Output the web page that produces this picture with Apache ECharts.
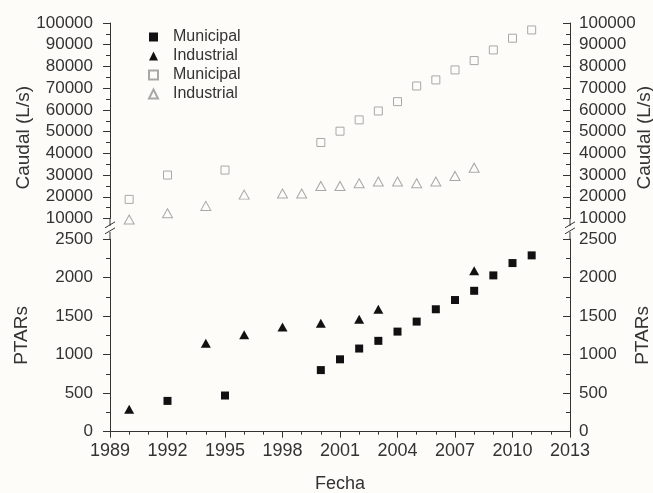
<!DOCTYPE html>
<html>
<head>
<meta charset="utf-8">
<script src="https://cdn.jsdelivr.net/npm/echarts@6/dist/echarts.min.js"></script>
<style>
  html, body { margin: 0; padding: 0; background: #fdfcf9; }
  #chart { width: 653px; height: 493px; }
</style>
</head>
<body>
<div id="chart"></div>
<script>
// Plantas de tratamiento (PTARs) por año
const ptarMunYears = [1992, 1995, 2000, 2001, 2002, 2003, 2004, 2005, 2006, 2007, 2008, 2009, 2010, 2011];
const ptarMun      = [400, 470, 800, 940, 1080, 1180, 1300, 1430, 1590, 1710, 1830, 2030, 2190, 2290];
const ptarIndYears = [1990, 1994, 1996, 1998, 2000, 2002, 2003, 2008];
const ptarInd      = [290, 1150, 1260, 1360, 1410, 1460, 1590, 2090];

// Caudal tratado (L/s) por año
const caudalMunYears = [1990, 1992, 1995, 2000, 2001, 2002, 2003, 2004, 2005, 2006, 2007, 2008, 2009, 2010, 2011];
const caudalMun      = [18800, 30000, 32300, 45000, 50200, 55400, 59500, 63800, 71000, 73800, 78400, 82700, 87600, 93000, 96800];
const caudalIndYears = [1990, 1992, 1994, 1996, 1998, 1999, 2000, 2001, 2002, 2003, 2004, 2005, 2006, 2007, 2008];
const caudalInd      = [9500, 12400, 15800, 21000, 21500, 21500, 25000, 25000, 26200, 27000, 27000, 26200, 27000, 29600, 33400];

const legendNames = ['PTARs Municipal', 'PTARs Industrial', 'Caudal Municipal', 'Caudal Industrial'];

const FONT = 'Liberation Sans, Arial, sans-serif';
const INK = '#333';
const HOLLOW = '#a8a8a8';

const pairs = (xs, ys) => xs.map((x, i) => [x, ys[i]]);
const plain = v => String(v);

const chart = echarts.init(document.getElementById('chart'), null, { renderer: 'canvas' });

const axisLine = { show: true, lineStyle: { color: INK, width: 1 } };
const yLabel = { color: INK, fontSize: 17, fontFamily: FONT, formatter: plain };
const nameStyle = { color: INK, fontSize: 19, fontFamily: FONT };
// the flow title sits a little below the middle of its panel
const caudalNameStyle = Object.assign({ padding: [0, 34, 0, 0] }, nameStyle);

function yAxisDef(grid, pos, min, max, interval, name, nameGap, style) {
  const right = pos === 'right';
  return {
    type: 'value', gridIndex: grid, position: pos, min: min, max: max, interval: interval,
    name: name, nameLocation: 'middle', nameGap: nameGap, nameRotate: 90, nameTextStyle: style,
    nameMoveOverlap: false,
    axisLine: axisLine,
    axisTick: { show: true, inside: right, length: 7, lineStyle: { color: INK } },
    minorTick: { show: true, splitNumber: 2, length: 4, lineStyle: { color: INK } },
    axisLabel: Object.assign({ margin: right ? 9 : 17 }, yLabel),
    splitLine: { show: false }
  };
}

const option = {
  backgroundColor: '#fdfcf9',
  animation: false,
  textStyle: { fontFamily: FONT },
  grid: [
    { left: 110, right: 83, top: 23, height: 195.5, containLabel: false, outerBoundsMode: 'none' },
    { left: 110, right: 83, top: 239.2, height: 192.5, containLabel: false, outerBoundsMode: 'none' }
  ],
  xAxis: [
    { type: 'value', gridIndex: 0, min: 1989, max: 2013, interval: 3, show: false },
    {
      type: 'value', gridIndex: 1, min: 1989, max: 2013, interval: 3,
      name: 'Fecha', nameLocation: 'middle', nameGap: 43, nameTextStyle: { color: INK, fontSize: 18, fontFamily: FONT },
      axisLine: axisLine,
      axisTick: { show: true, inside: false, length: 6, lineStyle: { color: INK } },
      minorTick: { show: true, splitNumber: 3, length: 3, lineStyle: { color: INK } },
      axisLabel: { color: INK, fontSize: 18, fontFamily: FONT, margin: 10, formatter: plain },
      splitLine: { show: false }
    }
  ],
  yAxis: [
    yAxisDef(0, 'left', 10000, 100000, 10000, 'Caudal (L/s)', 77, caudalNameStyle),
    yAxisDef(0, 'right', 10000, 100000, 10000, 'Caudal (L/s)', 65, caudalNameStyle),
    yAxisDef(1, 'left', 0, 2500, 500, 'PTARs', 79, nameStyle),
    yAxisDef(1, 'right', 0, 2500, 500, 'PTARs', 63, nameStyle)
  ],
  legend: {
    orient: 'vertical', left: 143, top: 24,
    itemWidth: 9, itemHeight: 9, itemGap: 3,
    data: legendNames,
    formatter: n => n.split(' ')[1],
    textStyle: { color: INK, fontSize: 16, fontFamily: FONT, padding: [0, 0, 0, 10] }
  },
  series: [
    {
      name: legendNames[0], type: 'scatter', xAxisIndex: 1, yAxisIndex: 2,
      symbol: 'rect', symbolSize: 8, itemStyle: { color: '#111', opacity: 1 },
      data: pairs(ptarMunYears, ptarMun)
    },
    {
      name: legendNames[1], type: 'scatter', xAxisIndex: 1, yAxisIndex: 2,
      symbol: 'triangle', symbolSize: [10, 9], itemStyle: { color: '#111', opacity: 1 },
      data: pairs(ptarIndYears, ptarInd)
    },
    {
      name: legendNames[2], type: 'scatter', xAxisIndex: 0, yAxisIndex: 0, clip: false,
      symbol: 'rect', symbolSize: 8,
      itemStyle: { color: 'rgba(0,0,0,0)', borderColor: HOLLOW, borderWidth: 1, opacity: 1 },
      data: pairs(caudalMunYears, caudalMun)
    },
    {
      name: legendNames[3], type: 'scatter', xAxisIndex: 0, yAxisIndex: 0, clip: false,
      symbol: 'triangle', symbolSize: [10, 9],
      itemStyle: { color: 'rgba(0,0,0,0)', borderColor: HOLLOW, borderWidth: 1, opacity: 1 },
      data: pairs(caudalIndYears, caudalInd)
    }
  ]
};

chart.setOption(option);

// Axis break between the two panels: short axis stubs plus a double slash on each side
const xs = [1989, 2013];
const graphics = [];
xs.forEach(function (yr) {
  const top = chart.convertToPixel({ xAxisIndex: 0, yAxisIndex: 0 }, [yr, 10000]);
  const bot = chart.convertToPixel({ xAxisIndex: 1, yAxisIndex: 2 }, [yr, 2500]);
  const x = top[0];
  const mid = (top[1] + bot[1]) / 2;
  const ls = { stroke: INK, lineWidth: 1 };
  graphics.push({ type: 'line', shape: { x1: x, y1: top[1], x2: x, y2: mid - 3 }, style: ls, silent: true });
  graphics.push({ type: 'line', shape: { x1: x, y1: mid + 3, x2: x, y2: bot[1] }, style: ls, silent: true });
  graphics.push({ type: 'line', shape: { x1: x - 5, y1: mid - 1, x2: x + 5, y2: mid - 7 }, style: ls, silent: true });
  graphics.push({ type: 'line', shape: { x1: x - 5, y1: mid + 5, x2: x + 5, y2: mid - 1 }, style: ls, silent: true });
});
chart.setOption({ graphic: graphics });
</script>
</body>
</html>
